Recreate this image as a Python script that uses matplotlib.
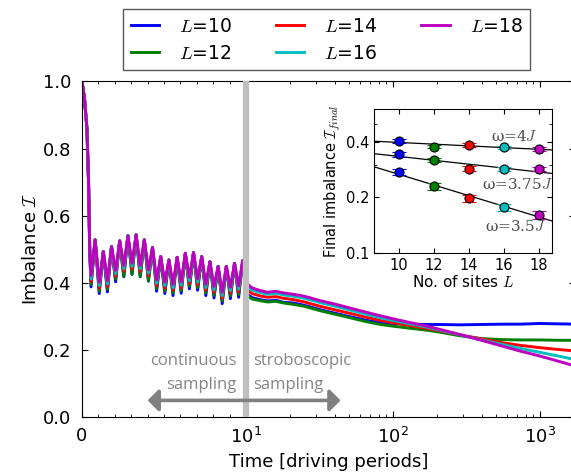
import numpy as np
import matplotlib.pyplot as plt
from matplotlib.ticker import FixedLocator, FixedFormatter, NullFormatter

plt.rcParams['mathtext.fontset'] = 'cm'

# ---- main panel data ----
t_start = [0.0, 0.15, 0.3, 0.4, 0.47]
I_start = [1.0, 0.95, 0.86, 0.70, 0.50]

t_peak = [0.8, 1.3, 1.8, 2.3, 2.8, 3.3, 3.8, 4.3, 4.8, 5.3,
          5.8, 6.3, 6.8, 7.3, 7.8, 8.3, 8.8, 9.3, 9.8]
I_peak = [0.528, 0.493, 0.508, 0.525, 0.540, 0.543, 0.528, 0.505, 0.478, 0.468,
          0.476, 0.488, 0.490, 0.478, 0.463, 0.449, 0.449, 0.458, 0.466]

t_trough = [0.55, 1.05, 1.55, 2.05, 2.55, 3.05, 3.55, 4.05, 4.55, 5.05,
            5.55, 6.05, 6.55, 7.05, 7.55, 8.05, 8.55, 9.05, 9.55]
trough_L10 = [0.388, 0.368, 0.373, 0.403, 0.418, 0.425, 0.418, 0.405, 0.375, 0.368,
              0.362, 0.369, 0.382, 0.378, 0.362, 0.355, 0.338, 0.353, 0.357]
trough_L12 = [0.396, 0.376, 0.381, 0.411, 0.419, 0.426, 0.419, 0.407, 0.383, 0.376,
              0.370, 0.377, 0.390, 0.386, 0.370, 0.363, 0.346, 0.361, 0.365]
trough_L14 = [0.404, 0.384, 0.389, 0.419, 0.434, 0.441, 0.434, 0.421, 0.391, 0.384,
              0.378, 0.385, 0.398, 0.394, 0.378, 0.371, 0.354, 0.369, 0.373]
trough_L16 = [0.412, 0.392, 0.397, 0.427, 0.442, 0.449, 0.442, 0.429, 0.399, 0.392,
              0.386, 0.393, 0.406, 0.402, 0.386, 0.379, 0.362, 0.377, 0.381]
trough_L18 = [0.422, 0.402, 0.407, 0.437, 0.452, 0.459, 0.452, 0.439, 0.409, 0.402,
              0.396, 0.403, 0.416, 0.412, 0.396, 0.389, 0.372, 0.387, 0.391]

# stroboscopic part (t > 10)
t_strobo = [10.3, 11, 12.5, 14, 16, 18, 21, 25, 32, 40, 50, 65, 80, 100,
            130, 170, 210, 280, 400, 550, 730, 1000, 1300, 1750]
strobo_L10 = [0.365, 0.356, 0.350, 0.346, 0.348, 0.342, 0.340, 0.333, 0.320, 0.310, 0.300, 0.289,
              0.282, 0.279, 0.277, 0.276, 0.276, 0.275, 0.276, 0.277, 0.277, 0.279, 0.278, 0.277]
strobo_L12 = [0.360, 0.352, 0.347, 0.343, 0.345, 0.340, 0.336, 0.330, 0.317, 0.307, 0.297, 0.285,
              0.277, 0.271, 0.265, 0.259, 0.253, 0.243, 0.234, 0.231, 0.230, 0.230, 0.229, 0.229]
strobo_L14 = [0.378, 0.368, 0.361, 0.357, 0.359, 0.354, 0.350, 0.343, 0.330, 0.320, 0.310, 0.298,
              0.289, 0.281, 0.273, 0.264, 0.257, 0.246, 0.233, 0.222, 0.214, 0.207, 0.202, 0.197]
strobo_L16 = [0.388, 0.378, 0.371, 0.366, 0.369, 0.364, 0.360, 0.354, 0.341, 0.331, 0.320, 0.307,
              0.297, 0.288, 0.278, 0.268, 0.259, 0.246, 0.230, 0.217, 0.205, 0.193, 0.183, 0.171]
strobo_L18 = [0.395, 0.385, 0.377, 0.372, 0.375, 0.370, 0.366, 0.360, 0.347, 0.337, 0.326, 0.313,
              0.303, 0.293, 0.282, 0.271, 0.261, 0.247, 0.229, 0.212, 0.197, 0.182, 0.168, 0.152]

sizes = [10, 12, 14, 16, 18]
colors = ['b', 'g', 'r', 'c', 'm']
troughs = [trough_L10, trough_L12, trough_L14, trough_L16, trough_L18]
strobos = [strobo_L10, strobo_L12, strobo_L14, strobo_L16, strobo_L18]

# ---- inset data ----
L_sites = [10, 12, 14, 16, 18]
final_4J = [0.403, 0.376, 0.382, 0.372, 0.364]
final_375J = [0.342, 0.318, 0.286, 0.284, 0.284]
final_35J = [0.275, 0.229, 0.198, 0.177, 0.161]
final_err = [0.010, 0.009, 0.009, 0.008, 0.008]


# x axis: linear up to 10, log above
R = 164 / 147


def fwd(x):
    x = np.asarray(x, dtype=float)
    return np.where(x <= 10, x / 10 * R, R + np.log10(np.maximum(x, 10) / 10))


def inv(y):
    y = np.asarray(y, dtype=float)
    return np.where(y <= R, y * 10 / R, 10 * 10 ** (np.maximum(y, R) - R))


fig = plt.figure(figsize=(5.71, 4.73), dpi=100)
ax = fig.add_axes([0.1436, 0.118, 0.8634, 0.710])
ax.set_xscale('function', functions=(fwd, inv))

for L, c, tr, st in zip(sizes, colors, troughs, strobos):
    t_osc = np.array(t_peak + t_trough)
    v_osc = np.array(I_peak + tr)
    order = np.argsort(t_osc)
    t_all = np.concatenate([t_start, t_osc[order], t_strobo])
    v_all = np.concatenate([I_start, v_osc[order], st])
    ax.plot(t_all, v_all, color=c, lw=2.1, label=r'$L$=%d' % L, zorder=2)

ax.axvline(10, color='0.75', lw=4.5, zorder=3)

ax.annotate('', xy=(44, 0.05), xytext=(4.0, 0.05),
            arrowprops=dict(arrowstyle='<|-|>,head_width=0.65,head_length=0.65',
                            color='0.5', lw=2.6, mutation_scale=10, shrinkA=0, shrinkB=0))
ax.text(9.4, 0.072, 'continuous\nsampling', color='0.52', ha='right', va='bottom',
        fontsize=12, family='Open Sans', linespacing=1.65)
ax.text(11.2, 0.072, 'stroboscopic\nsampling', color='0.52', ha='left', va='bottom',
        fontsize=12, family='Open Sans', linespacing=1.65)

ax.set_xlim(0, 1730)
ax.set_ylim(0, 1.0)
ax.xaxis.set_major_locator(FixedLocator([0, 10, 100, 1000]))
ax.xaxis.set_major_formatter(FixedFormatter(['0', r'$\mathdefault{10^{1}}$',
                                             r'$\mathdefault{10^{2}}$', r'$\mathdefault{10^{3}}$']))
minors = list(range(1, 10)) + list(range(20, 100, 10)) + list(range(200, 1000, 100))
ax.xaxis.set_minor_locator(FixedLocator(minors))
ax.xaxis.set_minor_formatter(NullFormatter())
ax.set_yticks([0.0, 0.2, 0.4, 0.6, 0.8, 1.0])
ax.set_yticklabels(['0.0', '0.2', '0.4', '0.6', '0.8', '1.0'])
ax.tick_params(which='both', direction='in', top=True, right=True, labelsize=13)
ax.tick_params(which='major', length=4)
ax.tick_params(which='minor', length=2)
ax.tick_params(axis='y', pad=8)
ax.tick_params(axis='x', pad=7)
ax.set_xlabel('Time [driving periods]', fontsize=13, labelpad=4)
ax.set_ylabel(r'Imbalance $\mathcal{I}$', fontsize=13, labelpad=2)

fig.legend(loc='upper left', bbox_to_anchor=(123 / 571, 1 - 9 / 473), ncol=3, fontsize=13.5,
           fancybox=False, edgecolor='0.35', framealpha=1, borderaxespad=0,
           handlelength=1.5, handletextpad=1.07, columnspacing=2.35, labelspacing=0.45)

# ---- inset ----
axin = fig.add_axes([0.655, 0.4651, 0.3117, 0.3045])
axin.set_yscale('log')
Lgrid = np.array([8.6, 18.75])
for vals in [final_4J, final_375J, final_35J]:
    p = np.polyfit(L_sites, np.log(vals), 1)
    axin.plot(Lgrid, np.exp(np.polyval(p, Lgrid)), color='k', lw=0.9, zorder=1)
    for L, v, e, c in zip(L_sites, vals, final_err, colors):
        axin.errorbar([L], [v], yerr=[e], fmt='o', mfc=c, mec='k', ms=6.5, mew=0.8,
                      ecolor=c, elinewidth=1.2, capsize=5, capthick=1.2, zorder=2)

axin.text(16.6, 0.424, r'ω=4$J$', color='0.3', ha='center', va='center',
          fontsize=11, family='DejaVu Serif')
axin.text(16.75, 0.234, r'ω=3.75$J$', color='0.3', ha='center', va='center',
          fontsize=11, family='DejaVu Serif')
axin.text(16.7, 0.139, r'ω=3.5$J$', color='0.3', ha='center', va='center',
          fontsize=11, family='DejaVu Serif')

axin.set_xlim(8.6, 18.75)
axin.set_ylim(0.1, 0.6)
axin.yaxis.set_major_locator(FixedLocator([0.1, 0.2, 0.4]))
axin.yaxis.set_major_formatter(FixedFormatter(['0.1', '0.2', '0.4']))
axin.yaxis.set_minor_locator(FixedLocator([0.3, 0.5]))
axin.yaxis.set_minor_formatter(NullFormatter())
axin.set_xticks(L_sites)
axin.tick_params(which='both', direction='in', top=True, right=True, labelsize=10.5)
axin.tick_params(which='major', length=3.5)
axin.tick_params(which='minor', length=2)
axin.set_xlabel(r'No. of sites $L$', fontsize=11, labelpad=1)
axin.set_ylabel(r'Final imbalance $\mathcal{I}_{final}$', fontsize=10.5, labelpad=2)

fig.savefig('out.png', dpi=100)
